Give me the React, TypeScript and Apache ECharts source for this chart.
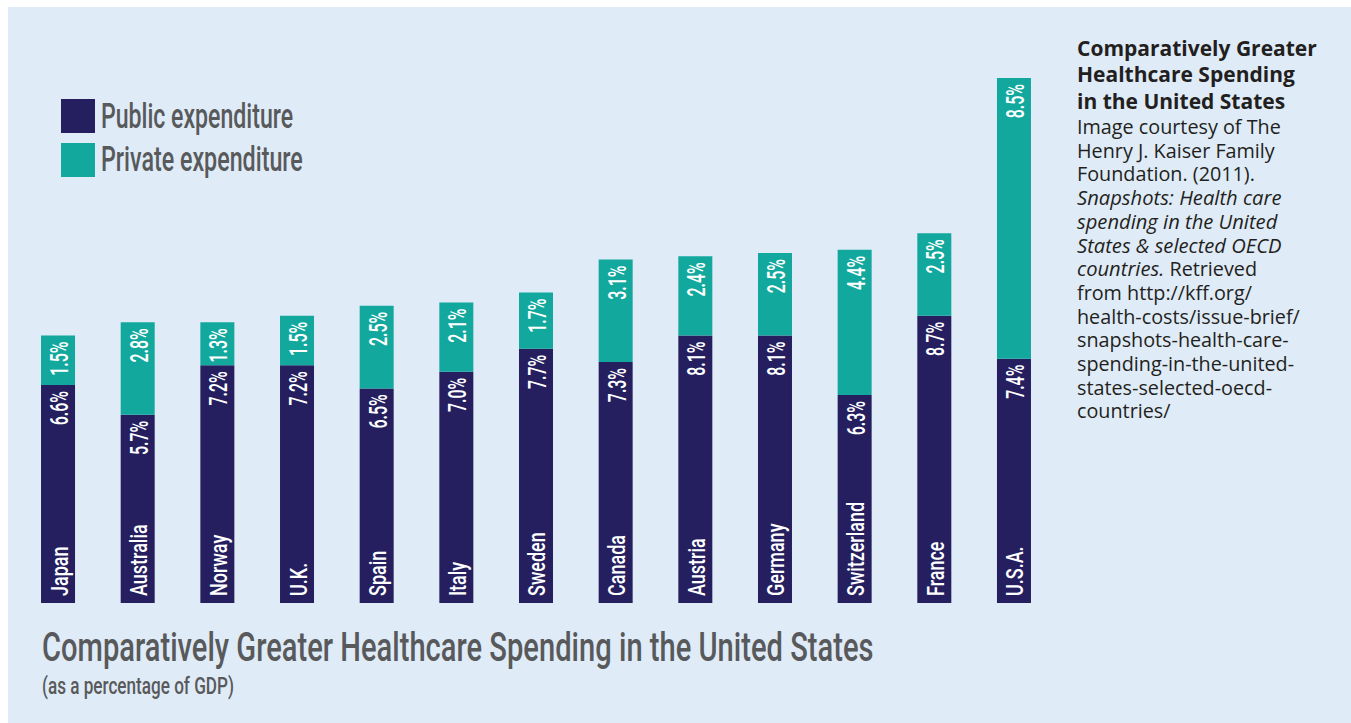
import React, { useEffect, useRef } from "react";
import * as echarts from "echarts";

const countries = ["Japan", "Australia", "Norway", "U.K.", "Spain", "Italy", "Sweden", "Canada", "Austria", "Germany", "Switzerland", "France", "U.S.A."];
const publicSpend = [6.6, 5.7, 7.2, 7.2, 6.5, 7.0, 7.7, 7.3, 8.1, 8.1, 6.3, 8.7, 7.4];
const privateSpend = [1.5, 2.8, 1.3, 1.5, 2.5, 2.1, 1.7, 3.1, 2.4, 2.5, 4.4, 2.5, 8.5];
const seriesNames = ["Public expenditure", "Private expenditure"];
const seriesColors = ["#251F5F", "#12A89D"];

const chartTitle = "Comparatively Greater Healthcare Spending in the United States";
const chartSubtitle = "(as a percentage of GDP)";
const captionHeading = ["Comparatively Greater", "Healthcare Spending", "in the United States"];
const captionBody = [
  "{n|Image courtesy of The}",
  "{n|Henry J. Kaiser Family}",
  "{n|Foundation. (2011).}",
  "{i|Snapshots: Health care}",
  "{i|spending in the United}",
  "{i|States & selected OECD}",
  "{i|countries.}{n| Retrieved}",
  "{n|from http://kff.org/}",
  "{n|health-costs/issue-brief/}",
  "{n|snapshots-health-care-}",
  "{n|spending-in-the-united-}",
  "{n|states-selected-oecd-}",
  "{n|countries/}",
];

const fmt = (v: number) => v.toFixed(1) + "%";

export default function App() {
  const ref = useRef<HTMLDivElement>(null);
  useEffect(() => {
    if (!ref.current) return;
    const chart = echarts.init(ref.current, undefined, { renderer: "svg" });
    const labelText = (x: number, y: number, text: string, align: string, size: number, sx: number) => ({
      type: "text",
      x,
      y,
      rotation: Math.PI / 2,
      scaleX: sx,
      style: {
        text,
        fill: "#FFFFFF",
        fontSize: size,
        fontWeight: 500,
        fontFamily: "Roboto",
        align,
        verticalAlign: "middle",
      },
    });
    const condensed = { fontFamily: "Roboto", fontWeight: 500, fill: "#58595B", align: "left", verticalAlign: "middle" };
    const option: any = {
      animation: false,
      backgroundColor: "#DFEBF7",
      grid: { left: 10.2, right: 297.2, top: 67.7, bottom: 120, containLabel: false },
      xAxis: { type: "category", data: countries, show: false },
      yAxis: { type: "value", min: 0, max: 16, show: false },
      series: [
        {
          name: seriesNames[0],
          type: "bar",
          stack: "total",
          barWidth: 34,
          data: publicSpend,
          itemStyle: { color: seriesColors[0] },
        },
        {
          name: seriesNames[1],
          type: "bar",
          stack: "total",
          barWidth: 34,
          data: privateSpend,
          itemStyle: { color: seriesColors[1] },
        },
        {
          type: "custom",
          silent: true,
          z: 5,
          clip: false,
          encode: { x: 0, y: 1 },
          data: countries.map((c, i) => [i, publicSpend[i], privateSpend[i]]),
          renderItem: (params: any, api: any) => {
            const i = api.value(0);
            const pub = api.value(1);
            const pri = api.value(2);
            const base = api.coord([i, 0]);
            const mid = api.coord([i, pub]);
            const top = api.coord([i, pub + pri]);
            const cx = base[0] + 1;
            return {
              type: "group",
              children: [
                labelText(cx, top[1] + 6, fmt(pri), "right", 26.5, 0.6),
                labelText(cx, mid[1] + 6, fmt(pub), "right", 26.5, 0.6),
                labelText(cx, base[1] - 7, countries[i], "left", 24, 0.75),
              ],
            };
          },
        },
      ],
      graphic: [
        { type: "rect", shape: { x: 53, y: 92, width: 34, height: 34 }, style: { fill: seriesColors[0] } },
        { type: "rect", shape: { x: 53, y: 136, width: 34, height: 34 }, style: { fill: seriesColors[1] } },
        { type: "text", x: 93, y: 108.5, scaleX: 0.66, style: { ...condensed, text: seriesNames[0], fontSize: 35 } },
        { type: "text", x: 93, y: 151.3, scaleX: 0.665, style: { ...condensed, text: seriesNames[1], fontSize: 35 } },
        { type: "text", x: 34, y: 640.5, scaleX: 0.714, style: { ...condensed, text: chartTitle, fontSize: 40.8 } },
        { type: "text", x: 34, y: 678.5, scaleX: 0.714, style: { ...condensed, text: chartSubtitle, fontSize: 24 } },
        {
          type: "text", x: 1069, y: 27.2,
          style: {
            text: captionHeading.join("\n"),
            fontSize: 21, fontWeight: "bold", fontFamily: "Open Sans", fill: "#231F20",
            lineHeight: 26.7, align: "left", verticalAlign: "top",
          },
        },
        {
          type: "text", x: 1069, y: 107.8, scaleX: 1.03,
          style: {
            text: captionBody.join("\n"),
            fontSize: 19.2, fontFamily: "Open Sans", fill: "#231F20", lineHeight: 23.7,
            align: "left", verticalAlign: "top",
            rich: {
              n: { fontSize: 19.2, fontFamily: "Open Sans", fill: "#231F20", lineHeight: 23.7 },
              i: { fontSize: 19.6, fontFamily: "Open Sans", fontStyle: "italic", fill: "#231F20", lineHeight: 23.7 },
            },
          },
        },
      ],
    };
    chart.setOption(option);
    return () => chart.dispose();
  }, []);
  return (
    <div
      ref={ref}
      style={{ position: "absolute", left: 8, top: 7, width: 1343, height: 716, background: "#DFEBF7" }}
    />
  );
}
